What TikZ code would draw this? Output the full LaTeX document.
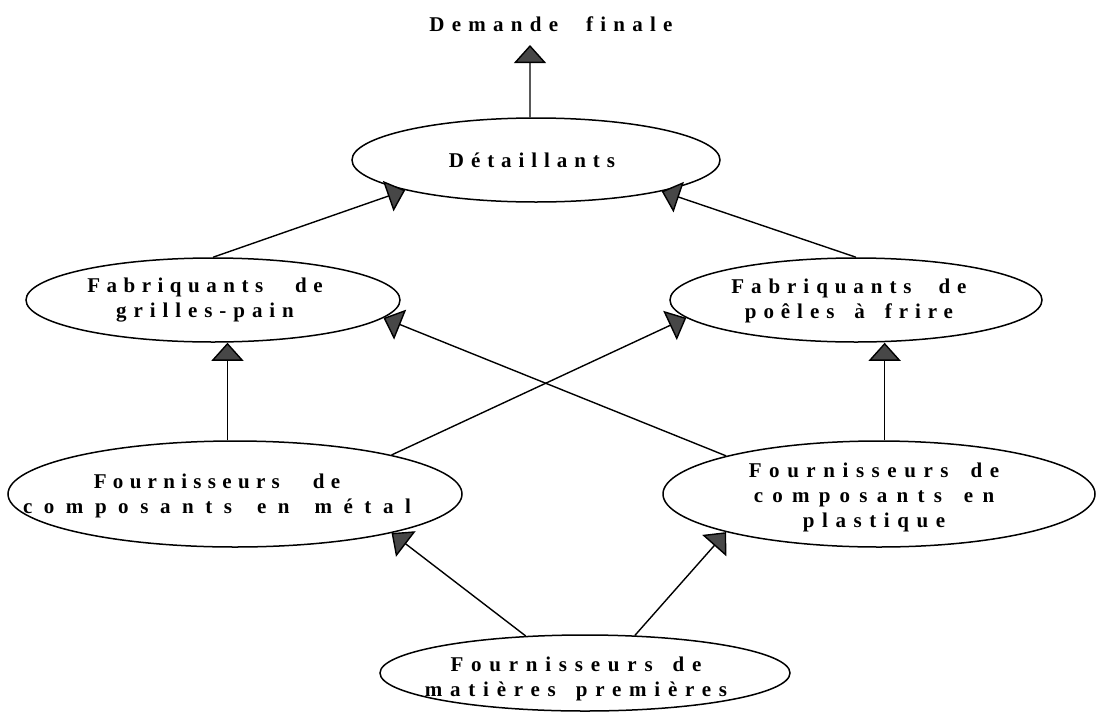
\documentclass[tikz,border=0pt]{standalone}
\usepackage{fontspec}
\newfontfamily\lblfont{Liberation Serif}[Ligatures=CommonOff]
\usetikzlibrary{shapes.geometric,arrows.meta}
% one line of widely tracked text:
% #1 = width of a word space, #2 = tracking in percent of the font size
\newcommand\trk[3][20pt]{{\addfontfeature{LetterSpace=#2}\spaceskip=#1\relax #3}}

\begin{document}
\begin{tikzpicture}[x=1pt,y=-1pt,
  oval/.style={ellipse, draw, line width=1.5pt, inner sep=0pt},
  lbl/.style={font=\lblfont\bfseries\fontsize{21}{25}\selectfont, align=center, inner sep=0pt},
  arr/.style={line width=1.4pt, -{Triangle[width=32pt,length=18pt,fill=black!72]}}]

  \path[fill=white] (0,0) rectangle (1097,715);
  \useasboundingbox (0,0) rectangle (1097,715);

  % the supply chain levels
  \node[oval, minimum width=368pt, minimum height=84pt] (det)    at (536,160) {};
  \node[oval, minimum width=374pt, minimum height=84pt] (grille) at (213,300) {};
  \node[oval, minimum width=372pt, minimum height=84pt] (poele)  at (856,300) {};
  \node[oval, minimum width=454pt, minimum height=106pt] (metal) at (235,494) {};
  \node[oval, minimum width=432pt, minimum height=106pt] (plast) at (879,494) {};
  \node[oval, minimum width=410pt, minimum height=76pt] (mp)     at (585,673) {};

  % labels
  \node[lbl, anchor=base] (dem)  at (551,31)  {\trk[28pt]{34.5}{Demande finale}};
  \node[lbl, anchor=base] (detT) at (532,167) {\trk{33}{Détaillants}};
  \node[lbl] (grilleT) at (205,300) {\trk[32pt]{31}{Fabriquants de}\\\trk{33}{grilles-pain}};
  \node[lbl] (poeleT)  at (849,301) {\trk[27pt]{33}{Fabriquants de}\\\trk{33}{poêles à frire}};
  \node[lbl] (metalT)  at (217,496) {\trk[33pt]{30}{Fournisseurs de}\\\trk[25pt]{55}{composants en métal}};
  \node[lbl] (plastT)  at (874,497) {\trk[22pt]{36}{Fournisseurs de}\\\trk[22pt]{44}{composants en}\\\trk{36}{plastique}};
  \node[lbl] (mpT)     at (576,679) {\trk{37}{Fournisseurs de}\\\trk{37}{matières premières}};

  % flows towards final demand
  \coordinate (demtip) at (530,45);
  \draw[arr] (det.98) -- (demtip);
  \draw[arr] (grille.north) -- (det.193);
  \draw[arr] (poele.north) -- (det.-14);
  \draw[arr] (metal.98.5) -- (metal.98.5 |- grille.south);
  \draw[arr] (plast.84) -- (plast.84 |- poele.south);
  \draw[arr] (metal.14) -- (poele.186);
  \draw[arr] (plast.166) -- (grille.-6);
  \draw[arr] (mp.148) -- (metal.-14);
  \draw[arr] (mp.37) -- (plast.194);
\end{tikzpicture}
\end{document}
